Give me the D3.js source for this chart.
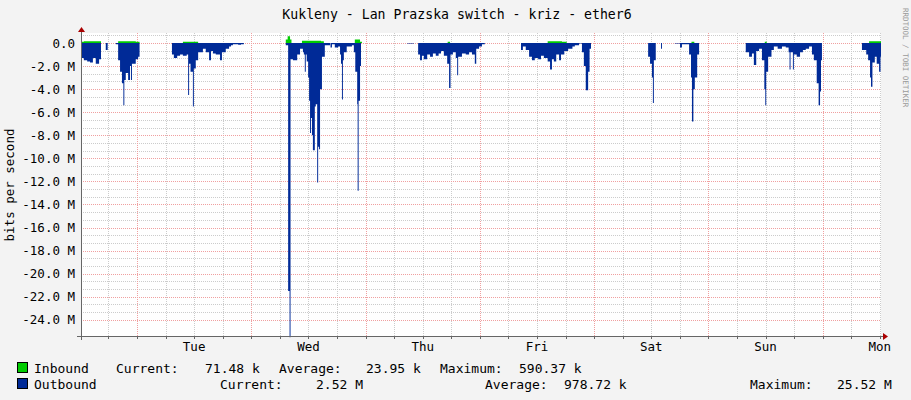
<!DOCTYPE html>
<html><head><meta charset="utf-8">
<script src="https://cdn.jsdelivr.net/npm/d3@7"></script>
<style>body{margin:0;background:#f3f3f3}text{font-family:"DejaVu Sans Mono",monospace}</style>
</head><body><svg id="c" width="911" height="400"></svg>
<script>
// hours since start (Mon ~12:14), values in M bits/s
const outT=[0,0.6,1.3,1.9,2.5,3.1,3.8,4.2,5.2,5.6,7.3,7.8,8.2,8.6,8.9,9.1,9.4,9.9,10.3,10.5,10.7,11.1,11.5,12,12.3,
19.1,19.5,20.2,20.8,21.4,22.2,22.5,22.7,23,23.5,23.7,24.1,24.6,25.6,26.2,26.9,27.3,27.7,28.3,29.2,29.6,30.4,31.1,31.5,31.9,33,33.6,34.2,
43,43.5,43.8,44,44.5,45.4,46,46.6,46.8,47,47.2,47.4,47.7,47.9,48.1,48.3,48.5,48.7,49.1,49.3,49.6,49.8,50,50.2,50.6,51.2,52.3,52.4,52.7,53.3,54,54.4,54.6,54.8,55,55.2,55.8,56.9,57.3,57.6,58,58.1,58.3,58.6,58.8,
68.5,69.9,70.8,71.2,71.6,72,72.7,73.3,73.9,74.5,75.1,75.6,76.2,76.9,77.3,77.6,78.1,78.7,79,79.2,80,80.8,81.5,82.1,82.7,83,83.6,84.2,84.8,
92.4,92.8,93.4,94.1,94.7,95.3,96,96.6,97.2,98,98.5,98.9,99.3,99.8,100.4,100.8,101.5,102.3,103.2,103.7,104.6,105.2,105.6,106,106.5,106.8,107.1,
119.1,119.5,119.9,120.1,120.3,120.7,121.8,122,124.7,125.8,126.2,127.7,128.1,128.3,128.6,128.9,129.4,129.8,
139.6,140.3,140.9,141.3,141.8,142.4,143,143.5,143.7,143.9,144.3,145,145.5,146.3,147.2,148,148.6,148.8,149,149.5,149.7,150.3,151,151.6,152.2,152.9,153.5,153.9,154.5,154.9,155.2,155.4,155.6,
164,164.4,164.9,165.3,165.7,165.9,166.2,166.7,167.1,167.6,167.9,168];
const outV=[1.3,1.5,1.6,1.7,1.3,1.8,1.4,0,0.6,0,0.1,1.5,2.5,3.5,5.4,3.2,2.6,3.2,2.0,3.2,1.8,1.8,1.4,1.2,0,
1.0,1.3,1.1,1.0,1.1,1.0,4.5,1.8,2.5,5.5,2.2,1.5,0.8,0.5,0.8,1.5,0.7,0.9,1.0,1.5,0.8,0.5,0.3,0.2,0.1,0.15,0.1,0,
0.2,21.5,25.5,1.4,1.5,1.0,0.5,0.8,1.0,2.5,1.0,1.6,3,5,7.8,6.5,8,9.3,5.5,5.3,12.1,9.0,9.2,4,1.2,0.2,0,0.4,0.1,0.4,0.3,1.0,1.8,4.9,1.5,0.8,0.3,0.2,0.8,2.5,5.3,12.8,5.0,2.0,0,
0.05,0,1.0,1.5,1.1,1.4,1.0,1.2,0.9,1.1,0.9,0.7,1.1,1.8,3.9,1.0,0.8,1.3,2.8,1.2,0.9,1.0,0.8,1.0,1.8,0.5,0.3,0.1,0,
0.6,0.3,0.6,1.2,1.5,1.3,1.4,1.1,1.3,1.6,2.3,1.4,1.6,1.0,1.5,1.0,0.7,0.5,0.3,0.2,0.05,0.8,2.0,4.1,2.5,0.5,0,
1.2,1.8,3,5.2,1.5,0,0.5,0,0.05,0.4,0.1,1.0,3,6.8,4.0,3.0,1.0,0,
0.8,1.2,0.9,1.9,0.7,0.5,1.5,4.0,5.4,2.5,1.2,0.6,0.3,0.5,0.3,0.4,0.8,2.3,0.8,2.3,1.0,1.2,0.8,0.6,0.5,0.3,1.0,1.5,3.5,5.4,4.2,1.5,0,
0.6,0.6,1.0,1.5,3.0,3.8,1.7,1.2,1.8,2.5,1.2,1.2];
const inT=[0,0.6,4.2,7.8,11.5,12.3,21.4,24.6,25,43,43.4,43.9,44.2,46.4,50.4,51,57.5,58.6,59,77,77.5,98,101,102,128.2,128.8,143.6,144,165.5,167.9,168];
const inV=[0.1,0.15,0,0.15,0.1,0,0.1,0,0,0.3,0.59,0.3,0,0.2,0.15,0,0.3,0.1,0,0.1,0,0.15,0.1,0,0.1,0,0.1,0,0.15,0.15,0.15];
const dayLabels=["Tue","Wed","Thu","Fri","Sat","Sun","Mon"];
const yTicks=d3.range(0,25,2);
const firstMidnight=11.76;

const svg=d3.select("#c");
const L=81,R=881,T=33,B=336;
const x=d3.scaleLinear().domain([0,168]).range([L,R]);
const y=d3.scaleLinear().domain([-25.4,0]).range([B,43]);
svg.append("rect").attr("x",L).attr("y",T).attr("width",R-L).attr("height",B-T).attr("fill","#fff");
const g=svg.append("g");
d3.range(-24,0.7,2/3).forEach(v=>{g.append("line").attr("x1",L).attr("x2",R).attr("y1",Math.round(y(v))+.5).attr("y2",Math.round(y(v))+.5).attr("stroke","#ccc").attr("stroke-dasharray","1,1");});
for(let h=firstMidnight-12;h<168;h+=6){if(h<0)continue;g.append("line").attr("x1",Math.round(x(h))+.5).attr("x2",Math.round(x(h))+.5).attr("y1",T).attr("y2",B).attr("stroke","#ccc").attr("stroke-dasharray","1,1");}
yTicks.forEach(v=>{g.append("line").attr("x1",L).attr("x2",R).attr("y1",Math.round(y(-v))+.5).attr("y2",Math.round(y(-v))+.5).attr("stroke","#f0a0a0").attr("stroke-dasharray","1,1");
 svg.append("text").attr("x",75).attr("y",y(-v)+4.5).attr("text-anchor","end").attr("font-size",12.5).attr("fill","#000").text(v===0?"0.0":"-"+v.toFixed(1)+" M");});
for(let h=firstMidnight;h<168;h+=24){g.append("line").attr("x1",Math.round(x(h))+.5).attr("x2",Math.round(x(h))+.5).attr("y1",T).attr("y2",B).attr("stroke","#f0a0a0").attr("stroke-dasharray","1,1");}
dayLabels.forEach((d,i)=>{svg.append("text").attr("x",x(firstMidnight+12+24*i)).attr("y",351).attr("text-anchor","middle").attr("font-size",12.5).text(d);});
const outData=outT.map((t,i)=>[t,-outV[i]]), inData=inT.map((t,i)=>[t,inV[i]]);
const area=d3.area().curve(d3.curveStepAfter).x(d=>x(d[0])).y0(y(0)).y1(d=>y(d[1]));
svg.append("path").datum(outData).attr("d",area).attr("fill","#002a97");
svg.append("path").datum(inData).attr("d",area).attr("fill","#00cc00");
svg.append("line").attr("x1",L-4).attr("x2",R+2).attr("y1",B+.5).attr("y2",B+.5).attr("stroke","#666");
svg.append("line").attr("x1",L+.5).attr("x2",L+.5).attr("y1",T-2).attr("y2",B+4).attr("stroke","#666");
svg.append("path").attr("d",`M${R+2},${B-3}L${R+7},${B+.5}L${R+2},${B+4}Z`).attr("fill","#a00");
svg.append("path").attr("d",`M${L-3},${T-1}L${L+.5},${T-6}L${L+4},${T-1}Z`).attr("fill","#a00");
for(let h=firstMidnight-12;h<168;h+=6){if(h<0)continue;svg.append("line").attr("x1",Math.round(x(h))+.5).attr("x2",Math.round(x(h))+.5).attr("y1",B).attr("y2",B+3).attr("stroke","#666");}
svg.append("text").attr("x",457).attr("y",19).attr("text-anchor","middle").attr("font-size",13.2).text("Kukleny - Lan Prazska switch - kriz - ether6");
svg.append("text").attr("transform","translate(14,185) rotate(-90)").attr("text-anchor","middle").attr("font-size",12.5).text("bits per second");
svg.append("text").attr("transform","translate(903,8) rotate(90)").attr("font-size",7.5).attr("fill","#999").text("RRDTOOL / TOBI OETIKER");
const legend=[{c:"#00cc00",y:373,items:[["Inbound",34],["Current:",116],["71.48 k",205],["Average:",279],["23.95 k",366],["Maximum:",440],["590.37 k",519]]},
 {c:"#002a97",y:389,items:[["Outbound",34],["Current:",220],["2.52 M",316],["Average:",485],["978.72 k",564],["Maximum:",750],["25.52 M",837]]}];
legend.forEach(r=>{svg.append("rect").attr("x",17.5).attr("y",r.y-10.5).attr("width",10).attr("height",10).attr("fill",r.c).attr("stroke","#000");
 r.items.forEach(([t,px])=>svg.append("text").attr("x",px).attr("y",r.y).attr("font-size",13).text(t));});
</script></body></html>
